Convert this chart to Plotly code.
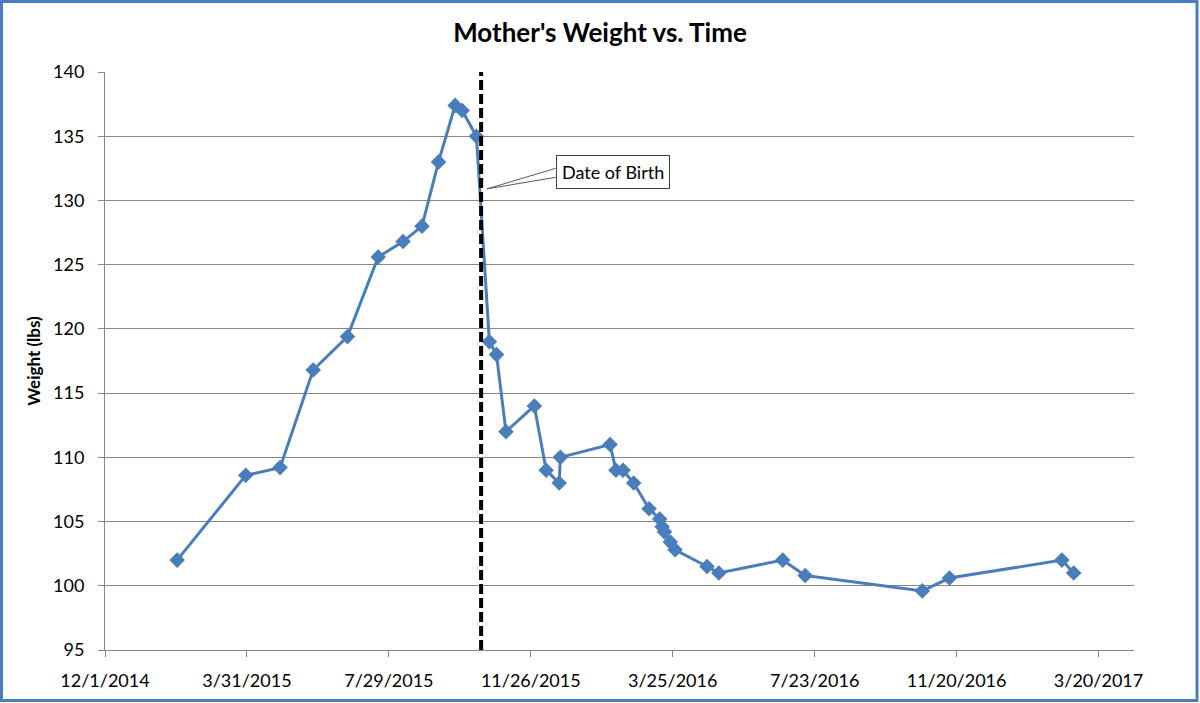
import plotly.graph_objects as go
from datetime import date, timedelta

# ---- data ----
dates = ["2015-01-31", "2015-03-30", "2015-04-28", "2015-05-26", "2015-06-24",
         "2015-07-20", "2015-08-10", "2015-08-26", "2015-09-09", "2015-09-23",
         "2015-09-29", "2015-10-11", "2015-10-22", "2015-10-28", "2015-11-05",
         "2015-11-29", "2015-12-09", "2015-12-20", "2015-12-21", "2016-02-01",
         "2016-02-06", "2016-02-12", "2016-02-21", "2016-03-05", "2016-03-14",
         "2016-03-16", "2016-03-18", "2016-03-23", "2016-03-27", "2016-04-23",
         "2016-05-03", "2016-06-26", "2016-07-15", "2016-10-22", "2016-11-14",
         "2017-02-17", "2017-02-27"]
weights = [102, 108.6, 109.2, 116.8, 119.4,
           125.6, 126.8, 128, 133, 137.4,
           137, 135, 119, 118, 112,
           114, 109, 108, 110, 111,
           109, 109, 108, 106, 105.2,
           104.6, 104.2, 103.4, 102.8, 101.5,
           101, 102, 100.8, 99.6, 100.6,
           102, 101]

birth_date = "2015-10-15"
birth_label = "Date of Birth"

x_tick_start = date(2014, 12, 1)
x_tick_step_days = 120
x_tick_count = 8
x_range = ["2014-12-01", "2017-04-19"]
y_range = [95, 140]

tick_dates = [x_tick_start + timedelta(days=x_tick_step_days * i) for i in range(x_tick_count)]
tick_vals = [d.isoformat() for d in tick_dates]
tick_text = [f"{d.month}/{d.day}/{d.year}" for d in tick_dates]

BLUE = "#4A7EBB"
GRID = "#868686"
FONT = "Lato"

fig = go.Figure()
fig.add_trace(go.Scatter(
    x=dates, y=weights, mode="lines+markers",
    line=dict(color=BLUE, width=3),
    marker=dict(symbol="diamond", size=12, color=BLUE),
    showlegend=False,
))

# dashed birth line
fig.add_shape(type="line", xref="x", yref="y",
              x0=birth_date, x1=birth_date, y0=y_range[0], y1=y_range[1],
              line=dict(color="black", width=4, dash="10px,4px"), layer="above")

# callout
callout_tip = ("2015-10-20", 130.9)
callout_box = ("2015-12-17", 132.2)
fig.add_shape(type="line", xref="x", yref="y",
              x0=callout_tip[0], y0=callout_tip[1], x1=callout_box[0], y1=132.5,
              line=dict(color="#595959", width=1))
fig.add_shape(type="line", xref="x", yref="y",
              x0=callout_tip[0], y0=callout_tip[1], x1=callout_box[0], y1=131.8,
              line=dict(color="#595959", width=1))
fig.add_annotation(x=callout_box[0], y=callout_box[1], xref="x", yref="y",
                   text=birth_label, showarrow=False, xanchor="left", yanchor="middle",
                   font=dict(family=FONT, size=18, color="black"),
                   bgcolor="white", bordercolor="#404040", borderwidth=1, borderpad=5)

# outer chart border
W, H = 1200, 703
ml, mr, mt, mb = 105, 66, 72, 53
pw, ph = W - ml - mr, H - mt - mb
def px2paper_x(px):
    return (px - ml) / pw
def px2paper_y(py):
    return (H - mb - py) / ph
fig.add_shape(type="rect", xref="paper", yref="paper",
              x0=px2paper_x(1.5), x1=px2paper_x(1197), y0=px2paper_y(700.5), y1=px2paper_y(1.5),
              line=dict(color=BLUE, width=3), fillcolor="rgba(0,0,0,0)", layer="above")

fig.update_layout(
    width=W, height=H,
    margin=dict(l=ml, r=mr, t=mt, b=mb),
    paper_bgcolor="white", plot_bgcolor="white",
    font=dict(family=FONT, size=18, color="black"),
    title=dict(text="<b>Mother's Weight vs. Time</b>", x=0.5, xanchor="center",
               y=1 - 33 / H, yanchor="middle", font=dict(family=FONT, size=26, color="black")),
    xaxis=dict(type="date", range=x_range, tickvals=tick_vals, ticktext=tick_text,
               showgrid=False, showline=True, linecolor=GRID, linewidth=1,
               ticks="outside", ticklen=6, tickcolor=GRID, zeroline=False,
               ticklabelstandoff=8),
    yaxis=dict(range=y_range, dtick=5, tick0=95, showgrid=True, gridcolor=GRID, gridwidth=1,
               showline=True, linecolor=GRID, linewidth=1, ticks="outside", ticklen=6,
               tickcolor=GRID, zeroline=False, ticklabelstandoff=10,
               title=dict(text="<b>Weight (lbs)</b>", font=dict(family=FONT, size=17), standoff=8)),
)

fig.write_html("out.html", config={"displayModeBar": False},
               post_script="document.body.style.margin='0';document.body.style.padding='0';")
